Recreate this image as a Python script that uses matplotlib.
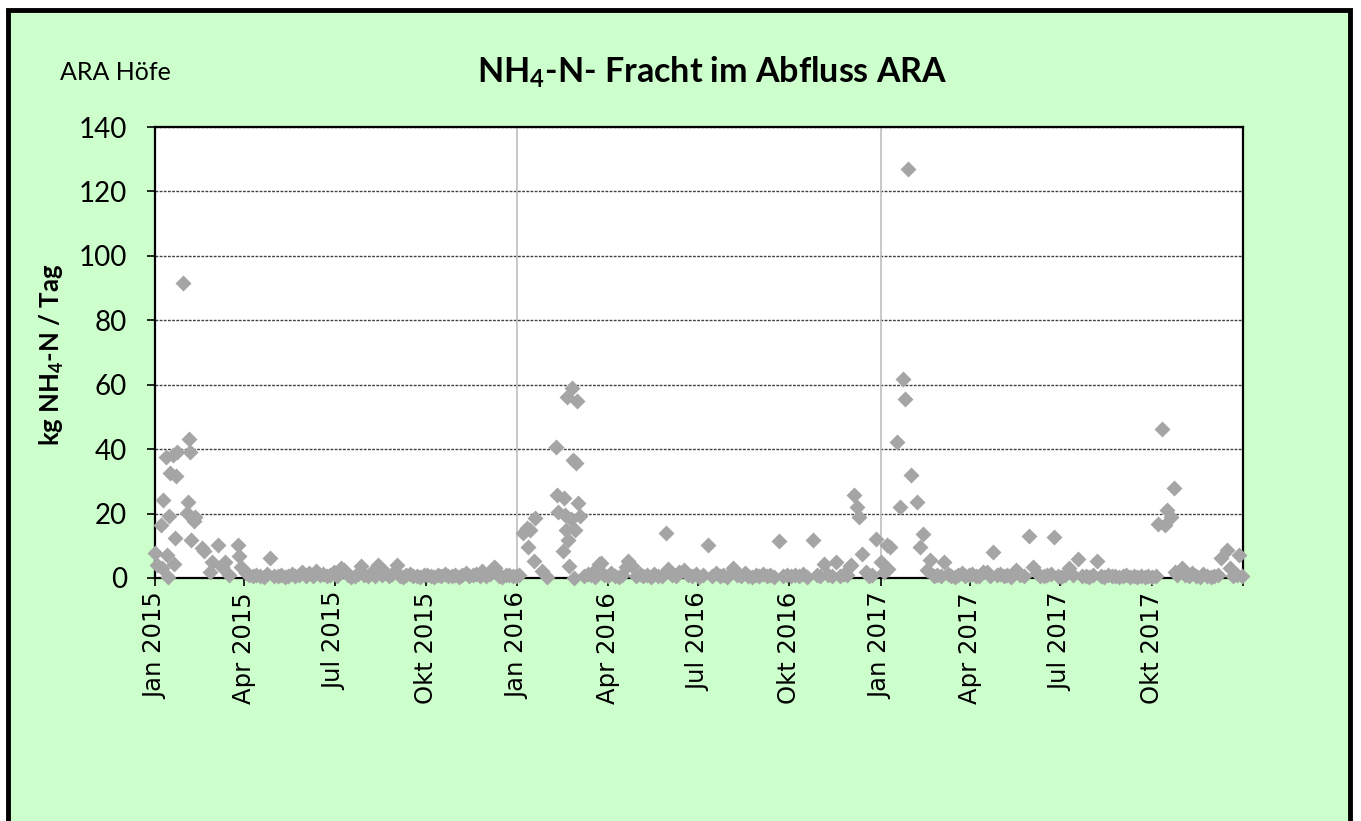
import matplotlib
matplotlib.use('Agg')
import matplotlib.pyplot as plt
import numpy as np
from matplotlib.patches import Rectangle

plt.rcParams['mathtext.fontset'] = 'custom'
plt.rcParams['mathtext.rm'] = 'Lato'
plt.rcParams['mathtext.bf'] = 'Lato:bold'

# ---- data: days since 2015-01-01 and NH4-N load (kg/day) ----
peak_days = [0, 2, 6, 7, 8, 11, 12, 13, 14, 15, 18, 19, 20, 21, 22, 28, 32, 33, 34, 35,
             36, 39, 40, 47, 49, 55, 57, 63, 67, 71, 75, 84, 85, 87, 92, 116, 187, 208, 225, 244,
             329, 341, 343,
             371, 375, 376, 378, 382, 383, 390, 395, 404, 405, 406, 411, 412, 413, 414, 415, 416,
             417, 419, 420, 421, 422, 423, 424, 425, 426, 428, 441, 447, 449, 474, 476, 481, 515,
             517, 533, 557, 582, 629, 663, 674, 686, 700, 701, 704, 707, 709, 712, 716, 726,
             731, 734, 737, 738, 740, 747, 750, 753, 756, 759, 762, 768, 771, 774, 778, 781, 795,
             834, 844, 867, 880, 884, 906, 921, 930, 949, 1010, 1014, 1017, 1019, 1023, 1026,
             1027, 1035, 1074, 1080, 1083, 1092]
peak_vals = [7.9, 4.0, 16.5, 3.0, 24.2, 37.7, 7.1, 0.4, 19.2, 32.5, 38.2, 4.3, 12.3, 31.7, 39.2, 91.7, 20.1, 23.7, 43.1, 39.0,
             11.8, 17.8, 19.0, 9.2, 8.5, 2.0, 5.1, 10.2, 3.5, 5.1, 0.9, 10.2, 6.8, 3.5, 1.5, 6.3, 3.0, 3.8, 4.0, 4.0,
             2.3, 3.5, 3.0,
             14.1, 15.4, 9.7, 14.9, 5.4, 18.5, 2.3, 0.4, 40.8, 25.8, 20.4, 8.5, 24.7, 19.6, 14.9, 56.3, 11.8,
             3.7, 18.2, 58.9, 36.6, 0.1, 14.9, 35.8, 55.0, 23.2, 19.2, 2.0, 4.2, 4.6, 3.5, 5.4, 3.7, 14.1,
             2.7, 2.5, 10.1, 3.0, 11.4, 11.7, 4.3, 5.1, 3.7, 4.0, 25.8, 22.1, 18.8, 7.5, 2.0, 12.1,
             5.1, 2.0, 10.2, 2.7, 9.7, 42.3, 22.1, 61.7, 55.5, 127.0, 32.0, 23.7, 9.7, 13.7, 2.5, 5.6, 5.1,
             2.0, 8.2, 2.5, 13.0, 3.5, 12.6, 3.0, 5.8, 5.3, 16.8, 46.3, 16.5, 21.1, 19.0, 28.0,
             2.0, 3.0, 6.1, 8.7, 3.0, 7.1]

base15_days = [95, 99, 102, 106, 110, 113, 120, 124, 127, 131, 134, 138, 141, 145, 148, 152, 155, 159, 162, 166,
               169, 173, 176, 180, 183, 190, 194, 197, 201, 204, 211, 215, 218, 222, 229, 232, 236, 239, 247, 250,
               253, 257, 260, 264, 267, 271, 274, 278, 281, 285, 288, 292, 295, 299, 302, 306, 309, 313, 316, 320,
               323, 327, 333, 337, 347, 350, 354, 357, 361, 364, 367]
base15_vals = [0.8, 0.5, 1.0, 0.6, 0.4, 1.2, 0.7, 0.5, 0.9, 0.3, 0.6, 1.1, 0.5, 0.8, 2.0, 0.6, 1.5, 0.7, 2.2, 0.9,
               1.3, 0.5, 0.8, 1.8, 0.6, 2.5, 1.0, 0.4, 0.7, 1.2, 0.9, 0.5, 1.4, 0.6, 0.8, 1.9, 0.5, 1.1, 0.6, 0.4,
               0.9, 1.3, 0.7, 0.5, 0.3, 0.8, 1.0, 0.6, 0.4, 0.9, 0.7, 1.2, 0.5, 0.6, 1.0, 0.4, 0.8, 1.5, 0.6, 0.9,
               1.2, 0.5, 0.7, 1.1, 0.6, 0.4, 0.8, 1.0, 0.5, 0.6, 1.0]

base16_days = [432, 436, 439, 443, 452, 456, 459, 463, 467, 470, 485, 489, 492, 496, 500, 503, 507, 511, 521, 525,
               528, 537, 541, 545, 548, 552, 561, 565, 569, 572, 576, 586, 590, 594, 597, 601, 605, 608, 612, 616,
               620, 624, 633, 637, 641, 645, 649, 653, 657, 667, 670, 678, 682, 690, 694, 697, 719, 722]
base16_vals = [0.5, 1.2, 0.8, 0.4, 1.0, 0.6, 1.5, 0.7, 0.3, 0.9, 0.5, 1.1, 0.6, 0.8, 0.4, 1.3, 0.7, 0.5, 1.0, 0.6,
               2.0, 0.8, 0.5, 1.2, 0.4, 0.9, 0.6, 1.4, 0.5, 0.8, 0.3, 1.0, 0.6, 1.5, 0.7, 0.4, 0.9, 0.6, 1.1, 0.5,
               0.8, 0.4, 0.7, 1.0, 0.5, 0.9, 0.6, 1.3, 0.4, 0.8, 0.6, 1.0, 0.5, 0.7, 1.2, 0.9, 0.5, 0.8]

base17_days = [785, 788, 792, 799, 802, 806, 809, 813, 816, 820, 823, 827, 830, 838, 841, 848, 851, 855, 858, 862,
               871, 875, 888, 892, 896, 899, 903, 910, 913, 917, 925, 934, 938, 941, 945, 953, 956, 960, 964, 967,
               971, 975, 978, 982, 986, 989, 993, 997, 1000, 1004, 1008,
               1030, 1038, 1042, 1045, 1049, 1053, 1056, 1060, 1064, 1067, 1071, 1086, 1090, 1095]
base17_vals = [0.7, 1.0, 0.5, 1.3, 0.6, 0.4, 0.9, 1.5, 0.6, 0.8, 1.1, 0.5, 0.7, 1.8, 0.6, 0.9, 1.2, 0.5, 0.8, 0.4,
               1.0, 0.6, 1.4, 0.7, 0.5, 0.9, 1.2, 0.6, 0.4, 0.8, 1.0, 0.5, 0.7, 0.3, 0.9, 0.6, 0.4, 0.8, 0.5, 0.7,
               0.3, 0.6, 0.9, 0.4, 0.5, 0.3, 0.7, 0.4, 0.6, 0.2, 0.5,
               0.8, 1.0, 0.5, 1.6, 0.7, 0.4, 1.2, 0.6, 0.3, 0.5, 0.9, 0.6, 0.8, 0.5]

tick_months = ['Jan', 'Apr', 'Jul', 'Okt']
tick_years = [2015, 2016, 2017]
y_ticks = [0, 20, 40, 60, 80, 100, 120, 140]

# ---- assemble ----
start = np.datetime64('2015-01-01')
days = np.array(peak_days + base15_days + base16_days + base17_days)
vals = np.array(peak_vals + base15_vals + base16_vals + base17_vals)
dates = start + days.astype('timedelta64[D]')

W, H = 1361, 821
fig = plt.figure(figsize=(W / 100, H / 100), dpi=100)
fig.patch.set_facecolor('white')
bg = Rectangle((8 / W, -0.05), (1350 - 8) / W, 1.05 - 10 / H,
               transform=fig.transFigure, facecolor='#CCFFCC',
               edgecolor='black', lw=3.5, zorder=-10)
fig.patches.append(bg)

ax = fig.add_axes([155 / W, 1 - 578 / H, (1243 - 155) / W, (578 - 127) / H])
ax.set_zorder(1)
ax.set_facecolor('white')

ax.axvline(np.datetime64('2016-01-01'), color='#BFBFBF', lw=1.2, zorder=1)
ax.axvline(np.datetime64('2017-01-01'), color='#BFBFBF', lw=1.2, zorder=1)
ax.yaxis.grid(True, linestyle=(0, (2, 1)), color='#404040', lw=1.0, zorder=1)
ax.set_axisbelow(True)

ax.plot(dates, vals, 'D', color='#A5A5A5', ms=8, mec='none', clip_on=False, zorder=4)

ax.set_xlim(np.datetime64('2015-01-01'), np.datetime64('2018-01-01'))
ax.set_ylim(0, 140)

tick_pos = []
tick_lab = []
for yr in tick_years:
    for i, m in enumerate(tick_months):
        tick_pos.append(np.datetime64(f'{yr}-{3 * i + 1:02d}-01'))
        tick_lab.append(f'{m} {yr}')
tick_pos.append(np.datetime64('2018-01-01'))
tick_lab.append('')
ax.set_xticks(tick_pos)
ax.set_xticklabels(tick_lab, rotation=90, fontsize=17.5, family='DejaVu Sans')
ax.set_yticks(y_ticks)
ax.set_yticklabels([str(v) for v in y_ticks], fontsize=20, family='Lato')
ax.tick_params(direction='out', length=6, width=1.2, color='black')
ax.tick_params(axis='x', pad=4)
ax.tick_params(axis='y', pad=14)
for s in ax.spines.values():
    s.set_linewidth(1.6)
    s.set_color('black')

fig.text(60 / W, 1 - 72 / H, 'ARA Höfe', fontsize=18, family='Lato', ha='left', va='center')
fig.text(712 / W, 1 - 72 / H, r'NH$_\mathbf{4}$-N- Fracht im Abfluss ARA', fontsize=24.5,
         family='Lato', weight='bold', ha='center', va='center')
fig.text(52 / W, 1 - 355 / H, r'kg NH$_\mathbf{4}$-N / Tag', fontsize=18.5, family='Lato',
         weight='bold', rotation=90, ha='center', va='center')

fig.savefig('out.png', dpi=100, facecolor=fig.get_facecolor())
